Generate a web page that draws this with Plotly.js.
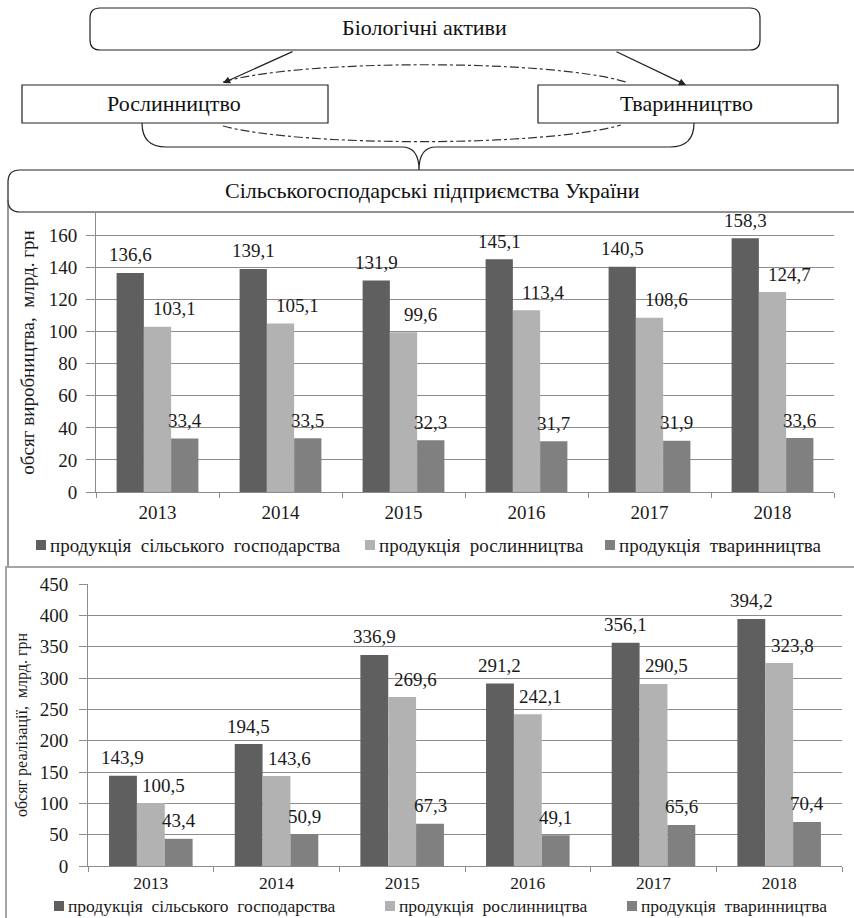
<!DOCTYPE html>
<html><head><meta charset="utf-8">
<script src="https://cdn.plot.ly/plotly-3.0.1.min.js"></script>
<style>html,body{margin:0;padding:0;background:#fff}#chart{width:854px;height:918px}</style>
</head><body><div id="chart"></div>
<script>
// ---- data ----
const years = ['2013','2014','2015','2016','2017','2018'];
const seriesNames = ['продукція сільського господарства','продукція рослинництва','продукція тваринництва'];
const prodAgri = [136.6,139.1,131.9,145.1,140.5,158.3];
const prodCrop = [103.1,105.1,99.6,113.4,108.6,124.7];
const prodLive = [33.4,33.5,32.3,31.7,31.9,33.6];
const salesAgri = [143.9,194.5,336.9,291.2,356.1,394.2];
const salesCrop = [100.5,143.6,269.6,242.1,290.5,323.8];
const salesLive = [43.4,50.9,67.3,49.1,65.6,70.4];
const yTitleTop = 'обсяг виробництва,  млрд. грн';
const yTitleBottom = 'обсяг реалізації,  млрд. грн';
const boxTop = 'Біологічні активи';
const boxLeft = 'Рослинництво';
const boxRight = 'Тваринництво';
const boxMain = 'Сільськогосподарські підприємства України';

// ---- style ----
const colors = ['#5f5f5f','#b2b2b2','#808080'];
const FONT = 'Liberation Serif, Times New Roman, serif';
const TXT = '#1a1a1a';
const GRID = '#8c8c8c';
const W = 854, H = 918;
const px = x => x / W;
const py = y => 1 - y / H;
const P = s => s.replace(/(-?[\d.]+),(-?[\d.]+)/g, (m,a,b) => px(+a).toFixed(5) + ',' + py(+b).toFixed(5));
const fmt = v => v.toFixed(1).replace('.', ',');

const topSeries = [prodAgri, prodCrop, prodLive];
const botSeries = [salesAgri, salesCrop, salesLive];

const traces = [];
topSeries.forEach((vals, i) => traces.push({type:'bar', x:years, y:vals, name:seriesNames[i],
  marker:{color:colors[i]}, xaxis:'x', yaxis:'y', showlegend:false, hoverinfo:'skip'}));
botSeries.forEach((vals, i) => traces.push({type:'bar', x:years, y:vals, name:seriesNames[i],
  marker:{color:colors[i]}, xaxis:'x2', yaxis:'y2', showlegend:false, hoverinfo:'skip'}));

const annotations = [];
const labelFont = {family:FONT, size:19, color:TXT};
// data labels (x given as category index of years[j])
const topBar = 27.3, botBar = 27.9;
const topExtra = [0, 17, 0], botExtra = [0, 13, 0];
topSeries.forEach((vals, i) => vals.forEach((v, j) => annotations.push({
  x: years.indexOf(years[j]), y: v, xref:'x', yref:'y', text: fmt(v), showarrow:false,
  xshift:(i-1)*topBar + topExtra[i], yshift:18, yanchor:'middle', font:labelFont})));
botSeries.forEach((vals, i) => vals.forEach((v, j) => annotations.push({
  x: years.indexOf(years[j]), y: v, xref:'x2', yref:'y2', text: fmt(v), showarrow:false,
  xshift:(i-1)*botBar + botExtra[i], yshift:18, yanchor:'middle', font:labelFont})));

// diagram texts
const diaFont = {family:FONT, size:22, color:'#111'};
[[boxTop,424,28],[boxLeft,174,103],[boxRight,686,103],[boxMain,432,191]].forEach(([t,x,y]) =>
  annotations.push({text:t, x:px(x), y:py(y), xref:'paper', yref:'paper', showarrow:false,
    xanchor:'center', yanchor:'middle', font:diaFont}));
// arrows
[[223,83,71,-32],[686,85,-71,-34]].forEach(([x,y,ax,ay]) => annotations.push({text:'', x:px(x), y:py(y),
  xref:'paper', yref:'paper', showarrow:true, arrowhead:2, arrowsize:1.1, arrowwidth:1.3,
  arrowcolor:'#222', ax:ax, ay:ay}));

// custom legends
const legTop = {y:545, sq:[36,365,605], size:19};
const legBot = {y:906, sq:[54,385,627], size:17.5};
const shapes = [];
[legTop, legBot].forEach(L => L.sq.forEach((x, i) => {
  shapes.push({type:'rect', xref:'paper', yref:'paper', x0:px(x), x1:px(x+10), y0:py(L.y+5), y1:py(L.y-5),
    fillcolor:colors[i], line:{width:0}});
  annotations.push({text:seriesNames[i].replace(/ /g,'\u00a0\u00a0'), x:px(x+12), y:py(L.y), xref:'paper', yref:'paper',
    showarrow:false, xanchor:'left', yanchor:'middle', font:{family:FONT, size:L.size, color:TXT}});
}));

// diagram shapes
const ln = {color:'#222', width:1.2};
shapes.push({type:'path', xref:'paper', yref:'paper', line:ln,
  path:P('M100,8 L750,8 Q760,8 760,18 L760,40 Q760,50 750,50 L100,50 Q90,50 90,40 L90,18 Q90,8 100,8 Z')});
shapes.push({type:'rect', xref:'paper', yref:'paper', line:ln, x0:px(22), x1:px(328), y0:py(123), y1:py(85)});
shapes.push({type:'rect', xref:'paper', yref:'paper', line:ln, x0:px(538), x1:px(838), y0:py(123), y1:py(85)});
shapes.push({type:'path', xref:'paper', yref:'paper', line:{color:'#333', width:1.2, dash:'dashdot'},
  path:P('M223,82 C300,59 550,59 626,82')});
shapes.push({type:'path', xref:'paper', yref:'paper', line:{color:'#333', width:1.2, dash:'dashdot'},
  path:P('M223,126 C300,147 545,147 621,125')});
shapes.push({type:'path', xref:'paper', yref:'paper', line:ln,
  path:P('M142,123 Q142,147 166,147 L402,147 Q419,147 419,170 Q419,147 436,147 L670,147 Q694,147 694,123')});
shapes.push({type:'path', xref:'paper', yref:'paper', line:ln,
  path:P('M860,170 L20,170 Q8,170 8,182 L8,200 Q8,212 20,212 L860,212')});
shapes.push({type:'path', xref:'paper', yref:'paper', line:{color:'#555', width:1.2},
  path:P('M8,200 L8,566')});
shapes.push({type:'rect', xref:'paper', yref:'paper', line:{color:'#a6a6a6', width:2},
  x0:px(6), x1:px(870), y0:py(930), y1:py(567)});

const tickFont = {family:FONT, size:19, color:TXT};
const xBase = {type:'category', range:[-0.5, years.length - 0.5], autorange:false, showgrid:false, showline:true,
  linecolor:GRID, linewidth:1, ticks:'outside', tickson:'boundaries', ticklen:5, tickcolor:GRID,
  tickfont:tickFont, fixedrange:true, ticklabelstandoff:3, tickangle:0};
const yBase = {showgrid:true, gridcolor:GRID, gridwidth:1, showline:true, linecolor:GRID, linewidth:1,
  ticks:'outside', ticklen:9, tickcolor:GRID, tickfont:tickFont, zeroline:false, fixedrange:true, autorange:false};

const layout = {
  width:W, height:H, margin:{l:0,r:0,t:0,b:0}, paper_bgcolor:'#fff', plot_bgcolor:'#fff',
  barmode:'group', bargap:0.335, bargroupgap:0, showlegend:false,
  font:{family:FONT, color:TXT},
  xaxis: Object.assign({}, xBase, {domain:[px(96), px(834)], anchor:'y'}),
  yaxis: Object.assign({}, yBase, {domain:[py(492), py(213)], anchor:'x', range:[0,174], dtick:20,
    ticklabelstandoff:5, title:{text:yTitleTop, font:{family:FONT, size:19, color:TXT}, standoff:9}}),
  xaxis2: Object.assign({}, xBase, {domain:[px(88), px(842)], anchor:'y2', ticklabelstandoff:1,
    tickfont:{family:FONT, size:17.5, color:TXT}}),
  yaxis2: Object.assign({}, yBase, {domain:[py(866), py(584)], anchor:'x2', range:[0,450], dtick:50, ticklen:8,
    ticklabelstandoff:7, title:{text:yTitleBottom, font:{family:FONT, size:16, color:TXT}, standoff:8}}),
  shapes:shapes, annotations:annotations
};
Plotly.newPlot('chart', traces, layout, {displayModeBar:false, staticPlot:true});
</script></body></html>
